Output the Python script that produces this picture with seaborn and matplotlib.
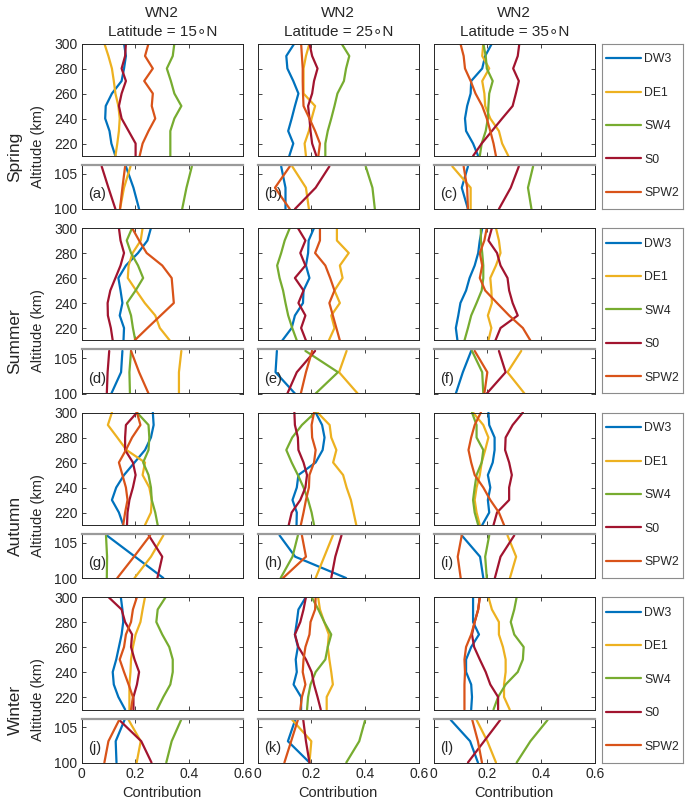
import matplotlib
matplotlib.use("Agg")
import matplotlib.pyplot as plt
import pandas as pd
import seaborn as sns

# ---------------- data ----------------
SERIES = ["DW3", "DE1", "SW4", "S0", "SPW2"]
COLORS = ["#0072BD", "#EDB120", "#77AC30", "#A2142F", "#D95319"]
SEASONS = ["Spring", "Summer", "Autumn", "Winter"]
LATITUDES = [15, 25, 35]
PANEL_TAGS = ["a", "b", "c", "d", "e", "f", "g", "h", "i", "j", "k", "l"]
ALT_UPPER = [300, 290, 280, 270, 260, 250, 240, 230, 220, 210]
ALT_LOWER = [106, 103, 100]
X_TICKS = [0, 0.2, 0.4, 0.6]
X_TICK_LABELS = ["0", "0.2", "0.4", "0.6"]
Y_TICKS_UPPER = [220, 240, 260, 280, 300]
Y_TICKS_LOWER = [100, 105]

# Spring
spring15_upper = {
    "DW3": [0.158, 0.165, 0.158, 0.149, 0.113, 0.090, 0.088, 0.104, 0.111, 0.126],
    "DE1": [0.085, 0.100, 0.113, 0.120, 0.126, 0.137, 0.142, 0.139, 0.133, 0.126],
    "SW4": [0.345, 0.339, 0.317, 0.332, 0.345, 0.371, 0.345, 0.330, 0.330, 0.330],
    "S0": [0.165, 0.162, 0.149, 0.165, 0.149, 0.139, 0.149, 0.175, 0.201, 0.201],
    "SPW2": [0.249, 0.236, 0.265, 0.233, 0.265, 0.261, 0.274, 0.249, 0.227, 0.216],
}
spring15_lower = {
    "DW3": [0.165, 0.193, 0.214], "DE1": [0.182, 0.158, 0.143],
    "SW4": [0.410, 0.390, 0.374], "S0": [0.075, 0.100, 0.126],
    "SPW2": [0.162, 0.152, 0.143],
}
spring25_upper = {
    "DW3": [0.137, 0.107, 0.111, 0.133, 0.152, 0.139, 0.127, 0.114, 0.133, 0.118],
    "DE1": [0.193, 0.180, 0.171, 0.171, 0.171, 0.214, 0.201, 0.191, 0.175, 0.180],
    "SW4": [0.312, 0.341, 0.329, 0.321, 0.297, 0.286, 0.274, 0.261, 0.252, 0.252],
    "S0": [0.193, 0.203, 0.223, 0.210, 0.203, 0.188, 0.193, 0.197, 0.203, 0.219],
    "SPW2": [0.162, 0.165, 0.168, 0.168, 0.169, 0.171, 0.193, 0.214, 0.232, 0.226],
}
spring25_lower = {
    "DW3": [0.088, 0.104, 0.104], "DE1": [0.129, 0.180, 0.191],
    "SW4": [0.402, 0.427, 0.436], "S0": [0.267, 0.216, 0.139],
    "SPW2": [0.120, 0.065, 0.120],
}
spring35_upper = {
    "DW3": [0.217, 0.192, 0.181, 0.140, 0.138, 0.125, 0.117, 0.121, 0.147, 0.166],
    "DE1": [0.185, 0.181, 0.207, 0.181, 0.189, 0.192, 0.211, 0.243, 0.255, 0.278],
    "SW4": [0.185, 0.194, 0.198, 0.220, 0.207, 0.204, 0.202, 0.194, 0.179, 0.172],
    "S0": [0.319, 0.313, 0.296, 0.317, 0.306, 0.294, 0.255, 0.217, 0.179, 0.147],
    "SPW2": [0.100, 0.112, 0.117, 0.138, 0.156, 0.181, 0.198, 0.211, 0.223, 0.232],
}
spring35_lower = {
    "DW3": [0.128, 0.105, 0.128], "DE1": [0.070, 0.138, 0.138],
    "SW4": [0.370, 0.351, 0.364], "S0": [0.317, 0.287, 0.243],
    "SPW2": [0.112, 0.125, 0.128],
}

# Summer
summer15_upper = {
    "DW3": [0.258, 0.245, 0.210, 0.165, 0.137, 0.145, 0.152, 0.142, 0.158, 0.156],
    "DE1": [0.227, 0.220, 0.190, 0.175, 0.172, 0.203, 0.235, 0.274, 0.291, 0.328],
    "SW4": [0.188, 0.168, 0.184, 0.210, 0.229, 0.201, 0.169, 0.184, 0.191, 0.200],
    "S0": [0.139, 0.145, 0.158, 0.145, 0.126, 0.107, 0.097, 0.098, 0.109, 0.116],
    "SPW2": [0.188, 0.214, 0.242, 0.300, 0.335, 0.339, 0.343, 0.294, 0.245, 0.197],
}
summer15_lower = {
    "DW3": [0.152, 0.147, 0.111], "DE1": [0.371, 0.362, 0.362],
    "SW4": [0.184, 0.178, 0.180], "S0": [0.103, 0.097, 0.094],
    "SPW2": [0.184, 0.214, 0.249],
}
summer25_upper = {
    "DW3": [0.210, 0.190, 0.188, 0.180, 0.193, 0.171, 0.169, 0.139, 0.127, 0.092],
    "DE1": [0.295, 0.295, 0.339, 0.306, 0.316, 0.286, 0.306, 0.274, 0.286, 0.265],
    "SW4": [0.120, 0.101, 0.088, 0.073, 0.082, 0.095, 0.104, 0.114, 0.129, 0.146],
    "S0": [0.150, 0.178, 0.159, 0.178, 0.139, 0.171, 0.152, 0.178, 0.162, 0.180],
    "SPW2": [0.232, 0.232, 0.214, 0.252, 0.270, 0.286, 0.267, 0.280, 0.293, 0.306],
}
summer25_lower = {
    "DW3": [0.072, 0.067, 0.139], "DE1": [0.331, 0.303, 0.372],
    "SW4": [0.178, 0.299, 0.216], "S0": [0.214, 0.146, 0.111],
    "SPW2": [0.203, 0.180, 0.161],
}
summer35_upper = {
    "DW3": [0.181, 0.172, 0.166, 0.153, 0.134, 0.121, 0.100, 0.092, 0.083, 0.089],
    "DE1": [0.232, 0.243, 0.249, 0.232, 0.211, 0.215, 0.217, 0.202, 0.215, 0.204],
    "SW4": [0.176, 0.176, 0.181, 0.185, 0.185, 0.179, 0.160, 0.140, 0.128, 0.115],
    "S0": [0.217, 0.204, 0.236, 0.249, 0.275, 0.281, 0.294, 0.313, 0.249, 0.230],
    "SPW2": [0.198, 0.189, 0.172, 0.181, 0.172, 0.192, 0.236, 0.281, 0.332, 0.360],
}
summer35_lower = {
    "DW3": [0.140, 0.109, 0.083], "DE1": [0.326, 0.275, 0.338],
    "SW4": [0.143, 0.181, 0.185], "S0": [0.243, 0.268, 0.198],
    "SPW2": [0.153, 0.200, 0.189],
}

# Autumn
autumn15_upper = {
    "DW3": [0.265, 0.268, 0.258, 0.236, 0.197, 0.158, 0.129, 0.113, 0.139, 0.155],
    "DE1": [0.113, 0.098, 0.133, 0.167, 0.236, 0.227, 0.252, 0.261, 0.258, 0.236],
    "SW4": [0.206, 0.249, 0.252, 0.249, 0.229, 0.249, 0.258, 0.261, 0.274, 0.283],
    "S0": [0.206, 0.165, 0.162, 0.162, 0.191, 0.201, 0.191, 0.178, 0.171, 0.169],
    "SPW2": [0.206, 0.219, 0.188, 0.165, 0.139, 0.152, 0.165, 0.171, 0.162, 0.155],
}
autumn15_lower = {
    "DW3": [0.094, 0.199, 0.304], "DE1": [0.304, 0.258, 0.197],
    "SW4": [0.091, 0.095, 0.094], "S0": [0.250, 0.300, 0.282],
    "SPW2": [0.255, 0.195, 0.133],
}
autumn25_upper = {
    "DW3": [0.216, 0.240, 0.249, 0.242, 0.216, 0.152, 0.146, 0.130, 0.146, 0.145],
    "DE1": [0.223, 0.268, 0.274, 0.293, 0.281, 0.318, 0.331, 0.347, 0.357, 0.367],
    "SW4": [0.214, 0.165, 0.129, 0.107, 0.127, 0.150, 0.171, 0.188, 0.201, 0.210],
    "S0": [0.137, 0.139, 0.150, 0.152, 0.171, 0.184, 0.178, 0.159, 0.127, 0.116],
    "SPW2": [0.210, 0.201, 0.203, 0.216, 0.210, 0.193, 0.191, 0.180, 0.171, 0.161],
}
autumn25_lower = {
    "DW3": [0.082, 0.140, 0.329], "DE1": [0.280, 0.248, 0.216],
    "SW4": [0.150, 0.130, 0.086], "S0": [0.312, 0.289, 0.274],
    "SPW2": [0.165, 0.180, 0.095],
}
autumn35_upper = {
    "DW3": [0.204, 0.207, 0.227, 0.227, 0.220, 0.202, 0.211, 0.202, 0.207, 0.181],
    "DE1": [0.147, 0.185, 0.204, 0.192, 0.179, 0.172, 0.160, 0.153, 0.160, 0.172],
    "SW4": [0.143, 0.160, 0.160, 0.185, 0.179, 0.160, 0.153, 0.147, 0.153, 0.166],
    "S0": [0.332, 0.294, 0.268, 0.266, 0.281, 0.291, 0.281, 0.281, 0.236, 0.223],
    "SPW2": [0.176, 0.153, 0.140, 0.130, 0.140, 0.153, 0.185, 0.211, 0.243, 0.262],
}
autumn35_lower = {
    "DW3": [0.105, 0.173, 0.185], "DE1": [0.275, 0.307, 0.284],
    "SW4": [0.207, 0.192, 0.198], "S0": [0.300, 0.249, 0.228],
    "SPW2": [0.105, 0.090, 0.101],
}

# Winter
winter15_upper = {
    "DW3": [0.146, 0.152, 0.155, 0.149, 0.139, 0.129, 0.116, 0.120, 0.137, 0.162],
    "DE1": [0.236, 0.227, 0.219, 0.201, 0.191, 0.184, 0.182, 0.178, 0.178, 0.178],
    "SW4": [0.313, 0.283, 0.278, 0.300, 0.326, 0.339, 0.339, 0.330, 0.304, 0.281],
    "S0": [0.100, 0.149, 0.162, 0.188, 0.184, 0.197, 0.214, 0.206, 0.193, 0.193],
    "SPW2": [0.206, 0.191, 0.184, 0.165, 0.158, 0.142, 0.158, 0.175, 0.191, 0.184],
}
winter15_lower = {
    "DW3": [0.160, 0.127, 0.130], "DE1": [0.175, 0.220, 0.205],
    "SW4": [0.370, 0.335, 0.315], "S0": [0.140, 0.222, 0.260],
    "SPW2": [0.140, 0.100, 0.085],
}
winter25_upper = {
    "DW3": [0.180, 0.152, 0.146, 0.139, 0.150, 0.142, 0.146, 0.134, 0.162, 0.162],
    "DE1": [0.225, 0.232, 0.248, 0.265, 0.261, 0.267, 0.274, 0.280, 0.257, 0.257],
    "SW4": [0.201, 0.226, 0.248, 0.274, 0.261, 0.252, 0.216, 0.197, 0.188, 0.184],
    "S0": [0.180, 0.171, 0.159, 0.139, 0.152, 0.180, 0.201, 0.210, 0.223, 0.235],
    "SPW2": [0.216, 0.214, 0.197, 0.193, 0.178, 0.171, 0.168, 0.178, 0.165, 0.159],
}
winter25_lower = {
    "DW3": [0.140, 0.113, 0.193], "DE1": [0.129, 0.200, 0.193],
    "SW4": [0.400, 0.378, 0.330], "S0": [0.170, 0.180, 0.193],
    "SPW2": [0.150, 0.125, 0.100],
}
winter35_upper = {
    "DW3": [0.147, 0.147, 0.147, 0.169, 0.140, 0.121, 0.121, 0.140, 0.143, 0.140],
    "DE1": [0.204, 0.217, 0.243, 0.243, 0.258, 0.268, 0.268, 0.262, 0.262, 0.283],
    "SW4": [0.309, 0.300, 0.287, 0.300, 0.335, 0.332, 0.313, 0.268, 0.240, 0.223],
    "S0": [0.172, 0.166, 0.153, 0.143, 0.151, 0.172, 0.194, 0.211, 0.240, 0.240],
    "SPW2": [0.172, 0.166, 0.153, 0.140, 0.121, 0.115, 0.117, 0.115, 0.115, 0.115],
}
winter35_lower = {
    "DW3": [0.064, 0.136, 0.165], "DE1": [0.160, 0.200, 0.232],
    "SW4": [0.424, 0.360, 0.309], "S0": [0.248, 0.188, 0.128],
    "SPW2": [0.144, 0.165, 0.180],
}

PANELS_UPPER = [
    [spring15_upper, spring25_upper, spring35_upper],
    [summer15_upper, summer25_upper, summer35_upper],
    [autumn15_upper, autumn25_upper, autumn35_upper],
    [winter15_upper, winter25_upper, winter35_upper],
]
PANELS_LOWER = [
    [spring15_lower, spring25_lower, spring35_lower],
    [summer15_lower, summer25_lower, summer35_lower],
    [autumn15_lower, autumn25_lower, autumn35_lower],
    [winter15_lower, winter25_lower, winter35_lower],
]

# ---------------- style ----------------
sns.set_style("ticks")
plt.rcParams["font.family"] = ["Liberation Sans", "DejaVu Sans"]
plt.rcParams["axes.edgecolor"] = "#262626"
plt.rcParams["axes.linewidth"] = 0.7

W, H = 685, 805
fig = plt.figure(figsize=(W / 100, H / 100), dpi=100)


def rect(x0, ytop, x1, ybot):
    return [x0 / W, 1 - ybot / H, (x1 - x0) / W, (ybot - ytop) / H]


COL_X0 = [81.5, 257.5, 433.5]
COL_W = 161.5
ROW_STEP = 184.5
ROW_TOP0 = 43.5


def long_df(d, alts):
    rows = []
    for s in SERIES:
        for a, v in zip(alts, d[s]):
            rows.append({"series": s, "alt": a, "value": v})
    return pd.DataFrame(rows)


def style_axes(ax):
    ax.tick_params(direction="in", top=True, right=True, length=3, width=0.6,
                   labelsize=10, colors="#262626", pad=3)
    ax.set_xlabel("")
    ax.set_ylabel("")
    for sp in ax.spines.values():
        sp.set_visible(True)
        sp.set_color("#262626")
        sp.set_linewidth(0.7)


for r in range(4):
    top = ROW_TOP0 + r * ROW_STEP
    up_box = (top, top + 112.5)
    lo_box = (top + 121.5, top + 165.5)
    first_up = None
    for c in range(3):
        x0 = COL_X0[c]
        ax_u = fig.add_axes(rect(x0, up_box[0], x0 + COL_W, up_box[1]))
        ax_l = fig.add_axes(rect(x0, lo_box[0], x0 + COL_W, lo_box[1]))
        sns.lineplot(data=long_df(PANELS_UPPER[r][c], ALT_UPPER), x="value", y="alt",
                     hue="series", hue_order=SERIES, palette=COLORS, orient="y",
                     estimator=None, legend=False, linewidth=1.6, ax=ax_u)
        sns.lineplot(data=long_df(PANELS_LOWER[r][c], ALT_LOWER), x="value", y="alt",
                     hue="series", hue_order=SERIES, palette=COLORS, orient="y",
                     estimator=None, legend=False, linewidth=1.6, ax=ax_l)
        if first_up is None:
            first_up = ax_u
        for ax in (ax_u, ax_l):
            style_axes(ax)
            ax.set_xlim(0, 0.6)
            ax.set_xticks(X_TICKS)
        ax_u.set_ylim(210, 300)
        ax_u.set_yticks(Y_TICKS_UPPER)
        ax_l.set_ylim(100, 106.2)
        ax_l.set_yticks(Y_TICKS_LOWER)
        ax_l.spines["top"].set_color("#9a9a9a")
        ax_l.spines["top"].set_linewidth(1.6)
        ax_u.set_xticklabels([])
        if r == 3:
            ax_l.set_xticklabels(X_TICK_LABELS)
            ax_l.set_xlabel("Contribution", fontsize=10.5, color="#262626", labelpad=4)
        else:
            ax_l.set_xticklabels([])
        if c != 0:
            ax_u.set_yticklabels([])
            ax_l.set_yticklabels([])
        ax_l.text(0.04, 0.33, f"({PANEL_TAGS[r * 3 + c]})", transform=ax_l.transAxes,
                  fontsize=10.5, color="#262626", va="center", ha="left")
        if r == 0:
            ax_u.text(0.5, 1.0 + 31 / 112.5, "WN2", transform=ax_u.transAxes,
                      ha="center", va="center", fontsize=11, color="#262626")
            ax_u.text(0.5, 1.0 + 12 / 112.5, f"Latitude = {LATITUDES[c]}\u2218N",
                      transform=ax_u.transAxes, ha="center", va="center",
                      fontsize=11, color="#262626")

    # season and axis labels
    fig.text(38 / W, 1 - (top + 103) / H, "Altitude (km)", rotation=90,
             ha="center", va="center", fontsize=10.5, color="#262626")
    fig.text(15 / W, 1 - (top + 113) / H, SEASONS[r], rotation=90,
             ha="center", va="center", fontsize=12.5, color="#262626")

    # legend box
    leg_ax = fig.add_axes(rect(602, top, 683, top + 165.5))
    leg_ax.set_xticks([])
    leg_ax.set_yticks([])
    for sp in leg_ax.spines.values():
        sp.set_visible(True)
        sp.set_color("#8c8c8c")
        sp.set_linewidth(0.8)
    handles = first_up.get_lines()[:5]
    leg_ax.legend(handles, SERIES, loc="center left", bbox_to_anchor=(0, 0.5),
                  frameon=False, fontsize=8.8, labelspacing=1.75, handlelength=2.9,
                  handletextpad=0.25, borderaxespad=0.0, borderpad=0.3,
                  labelcolor="#262626")

fig.savefig("out.png", dpi=100)
